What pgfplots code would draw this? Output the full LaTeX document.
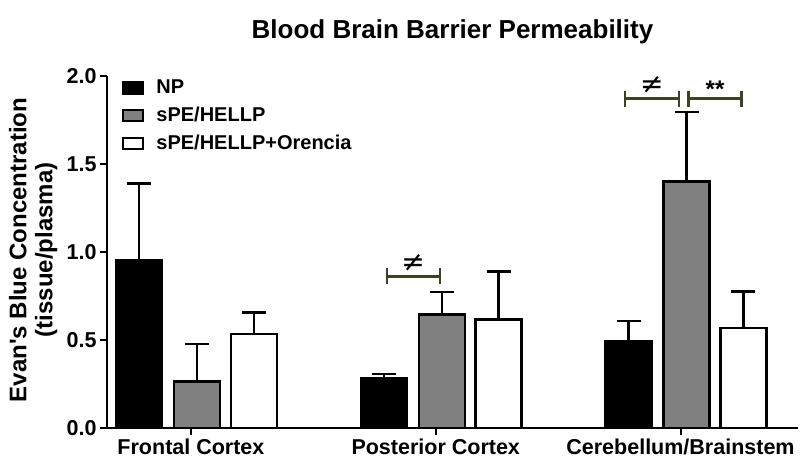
\documentclass[border=0pt]{standalone}
\usepackage{pgfplots}
\pgfplotsset{compat=1.18}
\usepackage{fontspec}
\setmainfont{Liberation Sans}
\newfontfamily\dejavu{DejaVu Sans}
\definecolor{sigline}{RGB}{62,66,36}
\definecolor{midgray}{RGB}{128,128,128}

\begin{document}
\begin{tikzpicture}
\useasboundingbox (-107pt,-30pt) rectangle (693pt,428pt);
\begin{axis}[
  scale only axis, clip=false,
  width=691pt, height=352pt,
  xmin=-0.343, xmax=2.48,
  ymin=0, ymax=2.0,
  axis x line*=bottom, axis y line*=left,
  axis line style={line width=2pt,-},
  xtick={0,1,2},
  xticklabels={Frontal Cortex, Posterior Cortex, Cerebellum/Brainstem},
  ytick={0,0.5,1.0,1.5,2.0},
  yticklabel style={/pgf/number format/.cd, fixed, fixed zerofill, precision=1},
  /pgf/number format/assume math mode=true,
  tick align=outside,
  major tick length=7pt,
  tick style={line width=2pt, black},
  tick label style={font=\fontsize{21.5}{25}\selectfont\bfseries},
  ylabel={Evan\textquotesingle s Blue Concentration\\(tissue/plasma)},
  ylabel style={at={(axis description cs:-0.107,0.506)}, anchor=center,
    align=center, font=\fontsize{24}{26}\selectfont\bfseries},
  ybar, bar shift=0pt, bar width=0.188,
  error bars/y dir=plus, error bars/y explicit,
  error bars/error mark=|,
  error bars/error bar style={line width=2.5pt, black},
  error bars/error mark options={line width=2.5pt, mark size=12pt, black},
  legend image code/.code={\draw[#1, line width=2.5pt] (0pt,-5.5pt) rectangle (20pt,5.5pt);},
  legend style={at={(axis description cs:0.017,1.0)}, anchor=north west,
    draw=none, fill=none, font=\fontsize{20}{24}\selectfont\bfseries,
    row sep=8pt, nodes={inner sep=2pt},
    /tikz/every odd column/.append style={column sep=10pt}},
  legend cell align=left,
]
% NP
\addplot[fill=black, draw=black, line width=2.5pt] coordinates {
  (-0.212,0.955) +- (0,0.435)
  (0.788,0.280) +- (0,0.027)
  (1.788,0.493) +- (0,0.115)
};
% sPE/HELLP
\addplot[fill=midgray, draw=black, line width=2.5pt] coordinates {
  (0.025,0.265) +- (0,0.213)
  (1.025,0.646) +- (0,0.126)
  (2.025,1.400) +- (0,0.395)
};
% sPE/HELLP+Orencia
\addplot[fill=white, draw=black, line width=2.5pt] coordinates {
  (0.257,0.533) +- (0,0.123)
  (1.257,0.616) +- (0,0.274)
  (2.257,0.569) +- (0,0.207)
};
\legend{NP, sPE/HELLP, sPE/HELLP+Orencia}

% significance brackets
\draw[sigline, line width=2.5pt] (axis cs:0.800,0.861) -- (axis cs:1.017,0.861);
\draw[sigline, line width=2.5pt] (axis cs:0.800,0.861) ++(0pt,-8pt) -- ++(0pt,16pt);
\draw[sigline, line width=2.5pt] (axis cs:1.017,0.861) ++(0pt,-8pt) -- ++(0pt,16pt);
\node[font=\fontsize{28}{28}\selectfont\dejavu] at (axis cs:0.908,0.938) {≠};

\draw[sigline, line width=2.5pt] (axis cs:1.773,1.871) -- (axis cs:1.994,1.871);
\draw[sigline, line width=2.5pt] (axis cs:1.773,1.871) ++(0pt,-8pt) -- ++(0pt,16pt);
\draw[sigline, line width=2.5pt] (axis cs:1.994,1.871) ++(0pt,-8pt) -- ++(0pt,16pt);
\node[font=\fontsize{28}{28}\selectfont\dejavu] at (axis cs:1.883,1.948) {≠};

\draw[sigline, line width=2.5pt] (axis cs:2.032,1.871) -- (axis cs:2.250,1.871);
\draw[sigline, line width=2.5pt] (axis cs:2.032,1.871) ++(0pt,-8pt) -- ++(0pt,16pt);
\draw[sigline, line width=2.5pt] (axis cs:2.250,1.871) ++(0pt,-8pt) -- ++(0pt,16pt);
\node[font=\fontsize{24}{24}\selectfont\bfseries] at (axis cs:2.141,1.925) {**};

\node[font=\fontsize{26}{28}\selectfont\bfseries] at (axis description cs:0.5,1.125)
  {Blood Brain Barrier Permeability};
\end{axis}
\end{tikzpicture}
\end{document}
